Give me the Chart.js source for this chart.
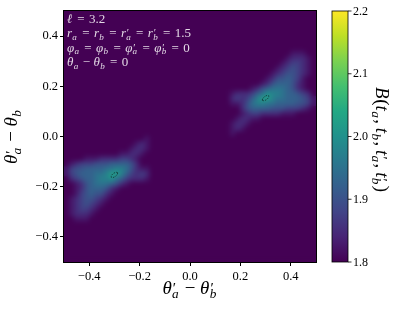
<!DOCTYPE html>
<html><head><meta charset="utf-8">
<script src="https://cdn.jsdelivr.net/npm/chart.js@4.4.1/dist/chart.umd.min.js"></script>
<style>html,body{margin:0;padding:0;background:#fff;overflow:hidden}#wrap{width:395px;height:312px;position:relative}</style>
</head><body><div id="wrap"><canvas id="c" width="395" height="312"></canvas></div>
<script>
// ---- data ----
const xTicks = [-0.4, -0.2, 0.0, 0.2, 0.4];
const yTicks = [-0.4, -0.2, 0.0, 0.2, 0.4];
const cbTicks = [1.8, 1.9, 2.0, 2.1, 2.2];
const vMin = 1.8, vMax = 2.2;
const gridX0 = -0.49, gridY0 = 0.49, gridStep = 0.02;   // cell centres
const levelStep = 0.025;                               // value = vMin + level*levelStep
const gridRows = [
"00000000000000000000000000000000000000000000000000",
"00000000000000000000000000000000000000000000000000",
"00000000000000000000000000000000000000000000000000",
"00000000000000000000000000000000000000000000000000",
"00000000000000000000000000000000000000000000000000",
"00000000000000000000000000000000000000000000000000",
"00000000000000000000000000000000000000000000000000",
"00000000000000000000000000000000000000000000000000",
"00000000000000000000000000000000000000000000011100",
"00000000000000000000000000000000000000000000122210",
"00000000000000000000000000000000000000000001233210",
"00000000000000000000000000000000000000000012343210",
"00000000000000000000000000000000000000000123443210",
"00000000000000000000000000000000000000001244543100",
"00000000000000000000000000000000000000012455542100",
"00000000000000000000000000000000000001245666542100",
"00000000000000000000000000000000012223568776554320",
"00000000000000000000000000000000023235799766555431",
"00000000000000000000000000000000011246776655554431",
"00000000000000000000000000000000000245555444333210",
"00000000000000000000000000000000000123322221110000",
"00000000000000000000000000000000001221100000000000",
"00000000000000000000000000000000012210000000000000",
"00000000000000000000000000000000012100000000000000",
"00000000000000000000000000000000010000000000000000",
"00000000000000001000000000000000000000000000000000",
"00000000000000121000000000000000000000000000000000",
"00000000000001221000000000000000000000000000000000",
"00000000000112210000000000000000000000000000000000",
"00001112222332100000000000000000000000000000000000",
"01233344455554200000000000000000000000000000000000",
"13445555667764211000000000000000000000000000000000",
"13455566799753232000000000000000000000000000000000",
"02345567786532221000000000000000000000000000000000",
"00124566654210000000000000000000000000000000000000",
"00124555421000000000000000000000000000000000000000",
"00134544210000000000000000000000000000000000000000",
"01234432100000000000000000000000000000000000000000",
"01234321000000000000000000000000000000000000000000",
"01233210000000000000000000000000000000000000000000",
"01222100000000000000000000000000000000000000000000",
"00111000000000000000000000000000000000000000000000",
"00000000000000000000000000000000000000000000000000",
"00000000000000000000000000000000000000000000000000",
"00000000000000000000000000000000000000000000000000",
"00000000000000000000000000000000000000000000000000",
"00000000000000000000000000000000000000000000000000",
"00000000000000000000000000000000000000000000000000",
"00000000000000000000000000000000000000000000000000",
"00000000000000000000000000000000000000000000000000"
];
const contourA = [{x:-0.287,y:-0.144},{x:-0.294,y:-0.142},{x:-0.304,y:-0.147},{x:-0.312,y:-0.155},{x:-0.313,y:-0.162},{x:-0.306,y:-0.164},{x:-0.296,y:-0.159},{x:-0.288,y:-0.151},{x:-0.287,y:-0.144}];
const contourB = [{x:0.287,y:0.144},{x:0.294,y:0.142},{x:0.304,y:0.147},{x:0.312,y:0.155},{x:0.313,y:0.162},{x:0.306,y:0.164},{x:0.296,y:0.159},{x:0.288,y:0.151},{x:0.287,y:0.144}];
const annotations = ["ℓ = 3.2", "r_a = r_b = r'_a = r'_b = 1.5", "φ_a = φ_b = φ'_a = φ'_b = 0", "θ_a − θ_b = 0"];
const xLabel = "θ'_a − θ'_b";
const yLabel = "θ'_a − θ_b";
const cbLabel = "B(t_a, t_b, t'_a, t'_b)";

// ---- colour map ----
const viridisStops = ['#440154','#482475','#414487','#355f8d','#2a788e','#21918c','#22a884','#44bf70','#7ad151','#bddf26','#fde725'];
const vrgb = viridisStops.map(h => [parseInt(h.slice(1,3),16),parseInt(h.slice(3,5),16),parseInt(h.slice(5,7),16)]);
function viridis(t){
  t = Math.max(0, Math.min(1, t));
  const f = t*10, k = Math.min(9, Math.floor(f)), u = f-k, a = vrgb[k], b = vrgb[k+1];
  return 'rgb(' + [0,1,2].map(i => Math.round(a[i]+(b[i]-a[i])*u)).join(',') + ')';
}

// ---- cells ----
const cells = [];
gridRows.forEach((row, j) => {
  [...row].forEach((ch, i) => {
    cells.push({x: gridX0 + i*gridStep, y: gridY0 - j*gridStep, v: vMin + Number(ch)*levelStep});
  });
});

// ---- math text ----
const FONT = '"Liberation Serif","DejaVu Serif",serif';
function fnt(c, size){ return (/[A-Za-zα-ωΑ-Ωℓ]/.test(c) ? 'italic ' : '') + size + 'px ' + FONT; }
function layoutMath(ctx, s, size, opPad){
  const atoms = []; const ch = [...s];
  for (let i=0;i<ch.length;i++){
    const c = ch[i];
    if (c === "'"){ atoms[atoms.length-1].prime = true; continue; }
    if (c === '_'){ atoms[atoms.length-1].sub = ch[++i]; continue; }
    if (c === ' ') continue;
    atoms.push({base:c});
  }
  let x = 0;
  for (const a of atoms){
    let pre=0, post=0;
    if (a.base === '='){ pre = post = opPad*size; }
    else if (a.base === '−'){ pre = post = 0.8*opPad*size; }
    else if (a.base === ','){ post = 0.2*size; }
    ctx.font = fnt(a.base, size);
    a.bw = ctx.measureText(a.base).width + (/[A-Za-zα-ωℓ]/.test(a.base) ? 0.04*size : 0);
    a.x = x + pre;
    let ext = 0;
    if (a.prime){ ctx.font = (size*0.8)+'px '+FONT; ext = Math.max(ext, ctx.measureText('′').width + 0.05*size); }
    if (a.sub){ ctx.font = fnt(a.sub, size*0.7); ext = Math.max(ext, ctx.measureText(a.sub).width + 0.05*size); }
    x = a.x + a.bw + ext + post;
  }
  return {atoms, width:x};
}
function drawMath(ctx, s, x, y, size, color, rot, align, opPad){
  const L = layoutMath(ctx, s, size, opPad === undefined ? 0.3 : opPad);
  ctx.save(); ctx.translate(x, y); ctx.rotate(rot||0);
  const x0 = align === 'left' ? 0 : -L.width/2;
  ctx.fillStyle = color; ctx.textBaseline = 'alphabetic'; ctx.textAlign = 'left';
  for (const a of L.atoms){
    ctx.font = fnt(a.base, size); ctx.fillText(a.base, x0+a.x, 0);
    const ax = x0 + a.x + a.bw;
    if (a.prime){ ctx.font = (size*0.8)+'px '+FONT; ctx.fillText('′', ax+0.02*size, -0.04*size); }
    if (a.sub){ ctx.font = fnt(a.sub, size*0.7); ctx.fillText(a.sub, ax-0.02*size, 0.22*size); }
  }
  ctx.restore();
}

const decor = {
  id: 'decor',
  beforeDatasetsDraw(chart){
    const {ctx, chartArea:a} = chart;
    ctx.save(); ctx.fillStyle = viridis(0); ctx.fillRect(a.left, a.top, a.right-a.left, a.bottom-a.top); ctx.restore();
  },
  afterDatasetDraw(chart, args){
    if (args.index !== 0) return;
    const {ctx, chartArea:a} = chart;
    const w = Math.round(a.right-a.left), h = Math.round(a.bottom-a.top);
    const tmp = document.createElement('canvas'); tmp.width = w; tmp.height = h;
    tmp.getContext('2d').drawImage(chart.canvas, a.left, a.top, w, h, 0, 0, w, h);
    ctx.save();
    ctx.beginPath(); ctx.rect(a.left, a.top, w, h); ctx.clip();
    ctx.filter = 'blur(2.8px)';
    ctx.drawImage(tmp, a.left, a.top);
    ctx.restore();
  },
  afterDraw(chart){
    const {ctx, chartArea:a} = chart;
    ctx.save();
    // frame
    ctx.strokeStyle = '#000'; ctx.lineWidth = 1;
    ctx.strokeRect(a.left-0.5, a.top-0.5, a.right-a.left+1, a.bottom-a.top+1);
    // annotations
    annotations.forEach((s, k) => drawMath(ctx, s, a.left+3, a.top+11.5+k*14.5, 13, 'rgba(255,255,255,0.85)', 0, 'left', 0.34));
    // axis labels
    drawMath(ctx, xLabel, (a.left+a.right)/2, 294, 19, '#000', 0);
    drawMath(ctx, yLabel, 17, (a.top+a.bottom)/2, 19, '#000', -Math.PI/2);
    // colour bar
    const cx0 = a.right+16, cx1 = a.right+32;
    const g = ctx.createLinearGradient(0, a.bottom, 0, a.top);
    viridisStops.forEach((c, k) => g.addColorStop(k/10, c));
    ctx.fillStyle = g; ctx.fillRect(cx0, a.top, cx1-cx0, a.bottom-a.top);
    ctx.strokeStyle = '#000'; ctx.lineWidth = 0.8;
    ctx.strokeRect(cx0, a.top, cx1-cx0, a.bottom-a.top);
    ctx.font = '12px ' + FONT; ctx.fillStyle = '#000'; ctx.textBaseline = 'middle'; ctx.textAlign = 'left';
    cbTicks.forEach(v => {
      const yy = a.bottom - (v-vMin)/(vMax-vMin)*(a.bottom-a.top);
      ctx.beginPath(); ctx.moveTo(cx1, yy); ctx.lineTo(cx1+3.5, yy); ctx.stroke();
      ctx.fillText(v.toFixed(1), cx1+5, yy+0.5);
    });
    drawMath(ctx, cbLabel, cx1+28, (a.top+a.bottom)/2+3, 19, '#000', Math.PI/2);
    ctx.restore();
  }
};

const fmt = v => (v < -1e-9 ? '−' : '') + Math.abs(v).toFixed(1);
new Chart(document.getElementById('c'), {
  type: 'scatter',
  data: { datasets: [
    { data: cells, order: 10, pointStyle: 'rect', borderWidth: 0,
      pointRadius: ctx => { const s = ctx.chart.scales.x; return Math.abs(s.getPixelForValue(gridStep)-s.getPixelForValue(0))/Math.SQRT2 + 0.45; },
      pointHoverRadius: 0,
      backgroundColor: ctx => viridis((ctx.raw.v - vMin)/(vMax - vMin)) },
    { data: contourA, order: 0, showLine: true, pointRadius: 0, borderColor: 'rgba(15,45,45,0.95)', borderWidth: 0.8, borderDash: [1.6,1.2], fill: false },
    { data: contourB, order: 0, showLine: true, pointRadius: 0, borderColor: 'rgba(15,45,45,0.95)', borderWidth: 0.8, borderDash: [1.6,1.2], fill: false }
  ]},
  options: {
    responsive: false, animation: false, events: [],
    layout: { padding: { left: 0, top: 11, right: 79, bottom: 0 } },
    plugins: { legend: {display:false}, tooltip: {enabled:false} },
    scales: {
      x: { type:'linear', min:-0.5, max:0.5,
        afterBuildTicks: s => { s.ticks = xTicks.map(v => ({value:v})); },
        afterFit: s => { s.height = 50; },
        grid: { drawOnChartArea:false, drawTicks:true, tickLength:4, color:'#000' },
        border: { display:false },
        ticks: { callback: fmt, color:'#000', font:{family:'Liberation Serif', size:12.5}, padding:3, maxRotation:0 } },
      y: { type:'linear', min:-0.5, max:0.5,
        afterBuildTicks: s => { s.ticks = yTicks.map(v => ({value:v})); },
        afterFit: s => { s.width = 64; },
        grid: { drawOnChartArea:false, drawTicks:true, tickLength:4, color:'#000' },
        border: { display:false },
        ticks: { callback: fmt, color:'#000', font:{family:'Liberation Serif', size:12.5}, padding:2 } }
    }
  },
  plugins: [decor]
});
</script></body></html>
